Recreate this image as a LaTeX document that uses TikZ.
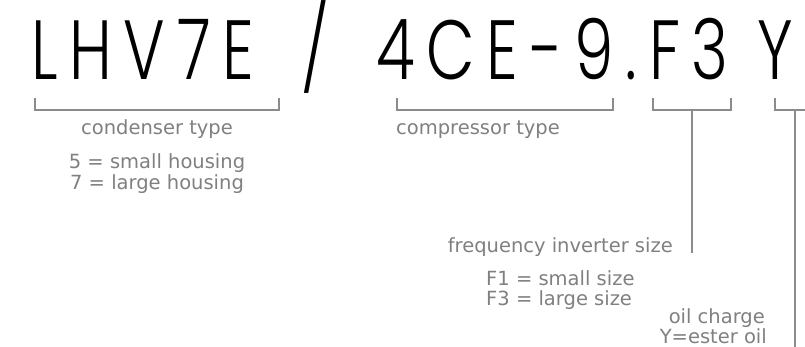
\documentclass[tikz,border=0pt]{standalone}
\usepackage{fontspec}
\setmainfont{DejaVu Sans}
\IfFontExistsTF{Poppins Light}{%
  \newfontfamily\bigfont[FakeStretch=0.75,LetterSpace=14]{Poppins Light}}{%
  \IfFontExistsTF{Lato Light}{%
    \newfontfamily\bigfont[FakeStretch=0.75,LetterSpace=14]{Lato Light}}{%
    \newfontfamily\bigfont[FakeStretch=0.75,LetterSpace=14]{DejaVu Sans}}}
\definecolor{lbl}{HTML}{808080}
\definecolor{brk}{HTML}{8C8C8C}
\tikzset{
  lab/.style={inner sep=0pt, text=lbl, font=\fontsize{19.5}{21}\selectfont, align=center},
  brack/.style={draw=brk, line width=2pt},
}
\begin{document}
\begin{tikzpicture}[x=1pt,y=-1pt]
\useasboundingbox (0,0) rectangle (805,347);
\fill[white] (0,0) rectangle (805,347);
\node[inner sep=0pt, anchor=base west, font=\bigfont\fontsize{84}{84}\selectfont] (code) at (31,80) {LHV7E\hspace{18pt} /\hspace{18pt} 4CE-9.F3 Y};

% brackets
\draw[brack] (35,98) -- (35,110) -- (279,110) -- (279,98);
\draw[brack] (397,98) -- (397,110) -- (613,110) -- (613,98);
\draw[brack] (653,98) -- (653,110) -- (731,110) -- (731,98);
\draw[brack] (775,98) -- (775,110) -- (812,110);
\coordinate (s3a) at (692,110);
\coordinate (s3b) at (692,253);
\coordinate (s4a) at (795,110);
\coordinate (s4b) at (795,350);
\draw[brack] (s3a) -- (s3b);
\draw[brack] (s4a) -- (s4b);

% labels
\node[lab, anchor=base] (cond) at (157,135) {condenser type};
\node[lab, anchor=base] (cond5) at (157,169) {5 = small housing};
\node[lab, anchor=base] (cond7) at (157,190) {7 = large housing};
\node[lab, anchor=base west] (comp) at (396,135) {compressor type};
\node[lab, anchor=base east] (freq) at (673,252) {frequency inverter size};
\node[lab, anchor=base west] (f1) at (486,285) {F1 = small size};
\node[lab, anchor=base west] (f3) at (486,305) {F3 = large size};
\node[lab, anchor=base east] (oil) at (765,323) {oil charge};
\node[lab, anchor=base east] (oily) at (767,343) {Y=ester oil};
\end{tikzpicture}
\end{document}
